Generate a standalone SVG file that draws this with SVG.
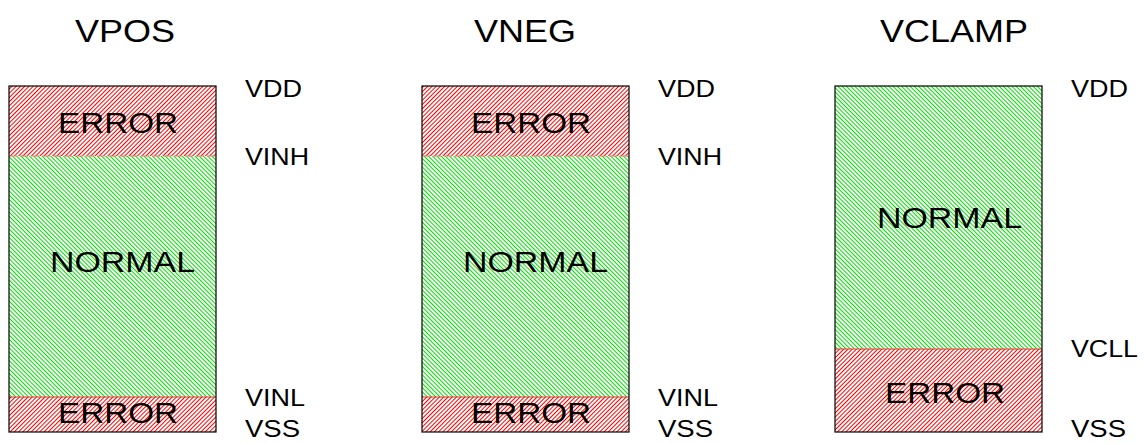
<svg xmlns="http://www.w3.org/2000/svg" width="1144" height="443" viewBox="0 0 1144 443">
<defs>
<pattern id="hatchRed" patternUnits="userSpaceOnUse" width="3" height="3" patternTransform="rotate(45)">
<rect width="3" height="3" fill="#fff"/>
<line x1="0.5" y1="0" x2="0.5" y2="3" stroke="#ff0000" stroke-width="1"/>
</pattern>
<pattern id="hatchGreen" patternUnits="userSpaceOnUse" width="3" height="3" patternTransform="rotate(-45)">
<rect width="3" height="3" fill="#fff"/>
<line x1="0.5" y1="0" x2="0.5" y2="3" stroke="#00e000" stroke-width="1"/>
</pattern>
</defs>
<style>
text{font-family:"Liberation Sans",Arial,sans-serif;fill:#000}
.t{font-size:32px}
.z{font-size:30px}
.l{font-size:24px}
.err{fill:url(#hatchRed)}
.ok{fill:url(#hatchGreen)}
.frame{fill:none;stroke:#000;stroke-width:1.2}
.sep{stroke:#f07070;stroke-width:1;stroke-dasharray:8,3}
.sep2{stroke:#e03030;stroke-width:1}
</style>
<rect width="1144" height="443" fill="#fff"/>
<g id="vpos">
<text class="t" x="75" y="42" textLength="100" lengthAdjust="spacingAndGlyphs">VPOS</text>
<rect class="err" x="9" y="86" width="207" height="70"/>
<rect class="ok" x="9" y="156" width="207" height="241"/>
<rect class="err" x="9" y="397" width="207" height="35"/>
<line class="sep" x1="9" y1="156" x2="216" y2="156"/>
<line class="sep2" x1="9" y1="397" x2="216" y2="397"/>
<rect class="frame" x="9" y="86" width="207" height="346"/>
<text class="z" x="58" y="133" textLength="120" lengthAdjust="spacingAndGlyphs">ERROR</text>
<text class="z" x="50" y="272" textLength="145" lengthAdjust="spacingAndGlyphs">NORMAL</text>
<text class="z" x="58" y="423" textLength="120" lengthAdjust="spacingAndGlyphs">ERROR</text>
<text class="l" x="245" y="97" textLength="57" lengthAdjust="spacingAndGlyphs">VDD</text>
<text class="l" x="245" y="165" textLength="64" lengthAdjust="spacingAndGlyphs">VINH</text>
<text class="l" x="245" y="406" textLength="60" lengthAdjust="spacingAndGlyphs">VINL</text>
<text class="l" x="245" y="437" textLength="55" lengthAdjust="spacingAndGlyphs">VSS</text>
</g>
<g id="vneg">
<text class="t" x="474" y="42" textLength="102" lengthAdjust="spacingAndGlyphs">VNEG</text>
<rect class="err" x="422" y="86" width="207" height="70"/>
<rect class="ok" x="422" y="156" width="207" height="241"/>
<rect class="err" x="422" y="397" width="207" height="35"/>
<line class="sep" x1="422" y1="156" x2="629" y2="156"/>
<line class="sep2" x1="422" y1="397" x2="629" y2="397"/>
<rect class="frame" x="422" y="86" width="207" height="346"/>
<text class="z" x="471" y="133" textLength="120" lengthAdjust="spacingAndGlyphs">ERROR</text>
<text class="z" x="463" y="272" textLength="145" lengthAdjust="spacingAndGlyphs">NORMAL</text>
<text class="z" x="471" y="423" textLength="120" lengthAdjust="spacingAndGlyphs">ERROR</text>
<text class="l" x="658" y="97" textLength="57" lengthAdjust="spacingAndGlyphs">VDD</text>
<text class="l" x="658" y="165" textLength="64" lengthAdjust="spacingAndGlyphs">VINH</text>
<text class="l" x="658" y="406" textLength="60" lengthAdjust="spacingAndGlyphs">VINL</text>
<text class="l" x="658" y="437" textLength="55" lengthAdjust="spacingAndGlyphs">VSS</text>
</g>
<g id="vclamp">
<text class="t" x="880" y="42" textLength="148" lengthAdjust="spacingAndGlyphs">VCLAMP</text>
<rect class="ok" x="835" y="86" width="207" height="263"/>
<rect class="err" x="835" y="349" width="207" height="83"/>
<line class="sep2" x1="835" y1="349" x2="1042" y2="349"/>
<rect class="frame" x="835" y="86" width="207" height="346"/>
<text class="z" x="877" y="228" textLength="145" lengthAdjust="spacingAndGlyphs">NORMAL</text>
<text class="z" x="885" y="403" textLength="120" lengthAdjust="spacingAndGlyphs">ERROR</text>
<text class="l" x="1071" y="97" textLength="57" lengthAdjust="spacingAndGlyphs">VDD</text>
<text class="l" x="1071" y="357" textLength="67" lengthAdjust="spacingAndGlyphs">VCLL</text>
<text class="l" x="1071" y="437" textLength="55" lengthAdjust="spacingAndGlyphs">VSS</text>
</g>
<g id="connectors"></g>
</svg>
